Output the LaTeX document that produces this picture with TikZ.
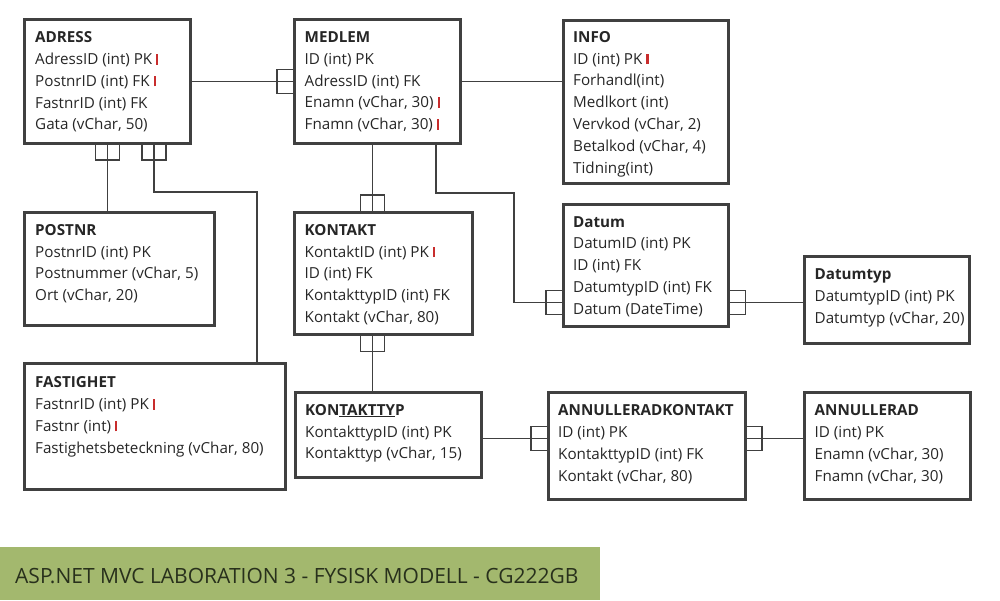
\documentclass[tikz,border=0pt]{standalone}
\usepackage{fontspec}
\setmainfont{Open Sans}
\usetikzlibrary{positioning}

\definecolor{ram}{RGB}{64,64,64}
\definecolor{textgra}{RGB}{38,38,38}
\definecolor{markrod}{RGB}{200,45,45}
\definecolor{bandgron}{RGB}{163,184,110}
\definecolor{bandtext}{RGB}{40,48,28}
\newcommand{\rodmark}{\textcolor{markrod}{\rule{2.2pt}{10.5pt}}}

\tikzset{
	tabell/.style={draw=ram, line width=3pt, anchor=north west, inner sep=0pt, outer sep=0pt},
	rader/.style={anchor=north west, inner sep=0pt, align=left, text=textgra,
		font=\fontsize{15.2}{21.8}\selectfont},
	linje/.style={draw=ram, line width=1.3pt},
	gaffel/.pic={\draw[linje] (0,-12) -- (17,-12) -- (17,12) -- (0,12);}
}

\begin{document}
\begin{tikzpicture}[x=1pt, y=-1pt]
		\useasboundingbox (0,0) rectangle (1000,600);
		% tabeller
		\node[tabell, minimum width=166pt, minimum height=123.5pt] (adress) at (24.5,19.5) {};
		\node[tabell, minimum width=166pt, minimum height=124pt] (medlem) at (294,19.5) {};
		\node[tabell, minimum width=165.5pt, minimum height=163pt] (info) at (563,20.5) {};
		\node[tabell, minimum width=190pt, minimum height=113pt] (postnr) at (24.5,212) {};
		\node[tabell, minimum width=178pt, minimum height=122.5pt] (kontakt) at (294,212) {};
		\node[tabell, minimum width=165.5pt, minimum height=122pt] (datum) at (563,204) {};
		\node[tabell, minimum width=165pt, minimum height=87pt] (datumtyp) at (804,256.5) {};
		\node[tabell, minimum width=260.5pt, minimum height=126pt] (fastighet) at (24.5,363.5) {};
		\node[tabell, minimum width=186pt, minimum height=85.5pt] (kontakttyp) at (295,392) {};
		\node[tabell, minimum width=197pt, minimum height=107pt] (annulleradkontakt) at (548,392.5) {};
		\node[tabell, minimum width=166pt, minimum height=107pt] (annullerad) at (804,392.5) {};

		% kolumner
		\node[rader] (adress-rader) at ([shift={(10.5,12)}]adress.north west)
			{\textbf{ADRESS}\\ AdressID (int) PK \rodmark\\ PostnrID (int) FK \rodmark\\ FastnrID (int) FK\\ Gata (vChar, 50)};
		\node[rader] (medlem-rader) at ([shift={(10.5,12)}]medlem.north west)
			{\textbf{MEDLEM}\\ ID (int) PK\\ AdressID (int) FK\\ Enamn (vChar, 30) \rodmark\\ Fnamn (vChar, 30) \rodmark};
		\node[rader] (info-rader) at ([shift={(10,10.5)}]info.north west)
			{\textbf{INFO}\\ ID (int) PK \rodmark\\ Forhandl(int)\\ Medlkort (int)\\ Vervkod (vChar, 2)\\ Betalkod (vChar, 4)\\ Tidning(int)};
		\node[rader] (postnr-rader) at ([shift={(10.5,12)}]postnr.north west)
			{\textbf{POSTNR}\\ PostnrID (int) PK\\ Postnummer (vChar, 5)\\ Ort (vChar, 20)};
		\node[rader] (kontakt-rader) at ([shift={(10.5,12)}]kontakt.north west)
			{\textbf{KONTAKT}\\ KontaktID (int) PK \rodmark\\ ID (int) FK\\ KontakttypID (int) FK\\ Kontakt (vChar, 80)};
		\node[rader] (datum-rader) at ([shift={(10,12)}]datum.north west)
			{\textbf{Datum}\\ DatumID (int) PK\\ ID (int) FK\\ DatumtypID (int) FK\\ Datum (DateTime)};
		\node[rader] (datumtyp-rader) at ([shift={(10.5,12)}]datumtyp.north west)
			{\textbf{Datumtyp}\\ DatumtypID (int) PK\\ Datumtyp (vChar, 20)};
		\node[rader] (fastighet-rader) at ([shift={(10.5,13)}]fastighet.north west)
			{\textbf{FASTIGHET}\\ FastnrID (int) PK \rodmark\\ Fastnr (int) \rodmark\\ Fastighetsbeteckning (vChar, 80)};
		\node[rader] (kontakttyp-rader) at ([shift={(10,12)}]kontakttyp.north west)
			{\textbf{KON\underline{TAKTTY}P}\\ KontakttypID (int) PK\\ Kontakttyp (vChar, 15)};
		\node[rader] (annulleradkontakt-rader) at ([shift={(10,12)}]annulleradkontakt.north west)
			{\textbf{ANNULLERADKONTAKT}\\ ID (int) PK\\ KontakttypID (int) FK\\ Kontakt (vChar, 80)};
		\node[rader] (annullerad-rader) at ([shift={(10.5,12)}]annullerad.north west)
			{\textbf{ANNULLERAD}\\ ID (int) PK\\ Enamn (vChar, 30)\\ Fnamn (vChar, 30)};

		% relationer
		\coordinate (knaA) at (154,192);
		\coordinate (knaB) at (257,192);
		\coordinate (knaC) at (436,193);
		\coordinate (knaD) at (514,302.5);
		\coordinate (kol) at (372.5,0);
		\coordinate (radE) at (0,302.5);
		\coordinate (radF) at (0,438.5);
		\draw[linje] (adress.east) -- (adress.east -| medlem.west);
		\pic[rotate=180] at (adress.east -| medlem.west) {gaffel};
		\draw[linje] (medlem.east) -- (medlem.east -| info.west);
		\draw[linje] (adress.south) -- (adress.south |- postnr.north);
		\pic[rotate=-90] at (adress.south) {gaffel};
		\draw[linje] (adress.south -| knaA) -- (knaA) -- (knaB) -- (knaB |- fastighet.north);
		\pic[rotate=-90] at (adress.south -| knaA) {gaffel};
		\draw[linje] (medlem.south -| kol) -- (kontakt.north -| kol);
		\pic[rotate=90] at (kontakt.north -| kol) {gaffel};
		\draw[linje] (kontakt.south -| kol) -- (kontakttyp.north -| kol);
		\pic[rotate=-90] at (kontakt.south -| kol) {gaffel};
		\draw[linje] (medlem.south -| knaC) -- (knaC) -| (knaD) -- (knaD -| datum.west);
		\pic[rotate=180] at (knaD -| datum.west) {gaffel};
		\draw[linje] (datum.east |- radE) -- (datumtyp.west |- radE);
		\pic at (datum.east |- radE) {gaffel};
		\draw[linje] (kontakttyp.east |- radF) -- (annulleradkontakt.west |- radF);
		\pic[rotate=180] at (annulleradkontakt.west |- radF) {gaffel};
		\draw[linje] (annulleradkontakt.east |- radF) -- (annullerad.west |- radF);
		\pic at (annulleradkontakt.east |- radF) {gaffel};

		% rubrik
		\fill[bandgron] (0,547) rectangle (600,600);
		\node[anchor=base west, inner sep=0pt, text=bandtext, font=\fontsize{21}{25}\selectfont]
			(rubrik) at (15,583) {ASP.NET MVC LABORATION 3 - FYSISK MODELL - CG222GB};
\end{tikzpicture}
\end{document}
